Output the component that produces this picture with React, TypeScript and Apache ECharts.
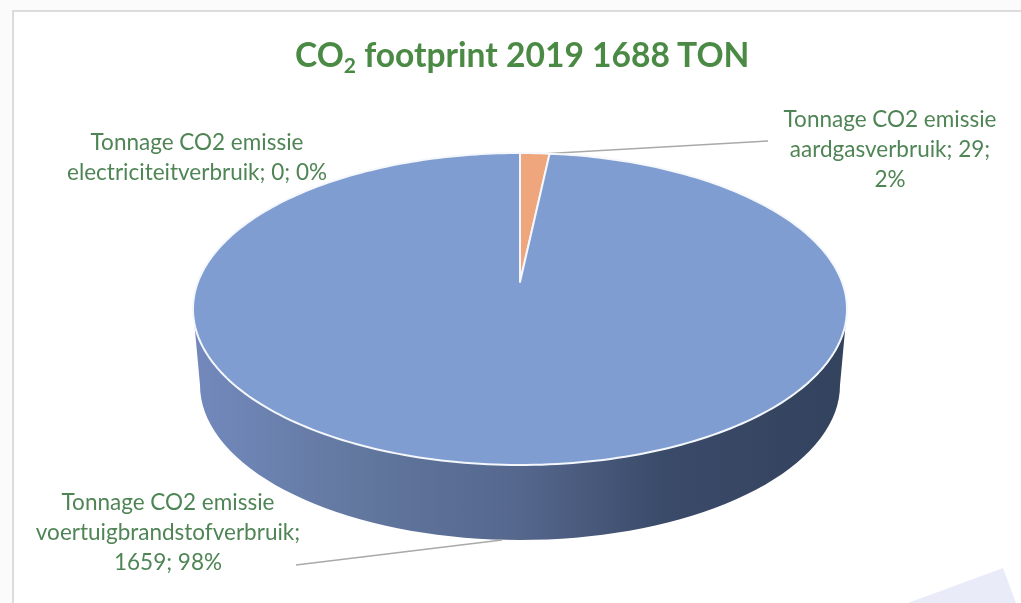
import React, { useEffect, useRef } from "react";
import * as echarts from "echarts";

const titleYear = "2019";
const titleTotal = "1688";
const sliceNames = ["electriciteitverbruik", "aardgasverbruik", "voertuigbrandstofverbruik"];
const sliceValues = [0, 29, 1659];
const slicePercents = ["0%", "2%", "98%"];
const sliceColors = ["#a5a5a5", "#f0a67c", "#7f9dd1"];

const W = 1021;
const H = 603;
const FONT = "Lato";
const GREEN = "#4f8555";
const TOP = { cx: 520, cy: 309, rx: 327, ry: 156 };
const BOTTOM = { cx: 520, cy: 385, rx: 320, ry: 155 };
// Perspective shift of the pie's centre towards the back, as a share of ry.
const PERSPECTIVE = 0.173;

function project(angle: number): number[] {
  const u = Math.sin(angle);
  const v = Math.cos(angle);
  const d = 1 + PERSPECTIVE * v;
  const x = (u * Math.sqrt(1 - PERSPECTIVE * PERSPECTIVE)) / d;
  const y = (v + PERSPECTIVE) / d;
  return [TOP.cx + TOP.rx * x, TOP.cy - TOP.ry * y];
}

function wallPoints(): number[][] {
  const pts: number[][] = [[TOP.cx - TOP.rx, TOP.cy], [TOP.cx + TOP.rx, TOP.cy]];
  for (let i = 0; i <= 72; i++) {
    const a = (Math.PI * i) / 72;
    pts.push([BOTTOM.cx + BOTTOM.rx * Math.cos(a), BOTTOM.cy + BOTTOM.ry * Math.sin(a)]);
  }
  return pts;
}

function renderSlice(params: any, api: any) {
  const total = sliceValues.reduce((a, b) => a + b, 0);
  const value = api.value(0) as number;
  if (!value) return null;
  const before = sliceValues.slice(0, params.dataIndex).reduce((a, b) => a + b, 0);
  const a0 = (before / total) * Math.PI * 2;
  const a1 = ((before + value) / total) * Math.PI * 2;
  const steps = Math.max(2, Math.ceil((a1 - a0) / 0.02));
  const pts: number[][] = [[TOP.cx, TOP.cy - TOP.ry * PERSPECTIVE]];
  for (let i = 0; i <= steps; i++) pts.push(project(a0 + ((a1 - a0) * i) / steps));
  return {
    type: "polygon",
    shape: { points: pts },
    style: { fill: sliceColors[params.dataIndex], stroke: "#f4f7fb", lineWidth: 2, lineJoin: "round" },
  };
}

const label = (text: string, x: number, y: number) => ({
  type: "text",
  x,
  y,
  style: {
    text,
    fill: GREEN,
    font: `22.5px ${FONT}`,
    lineHeight: 30,
    align: "center",
    verticalAlign: "middle",
  },
});

const leader = (x1: number, y1: number, x2: number, y2: number) => ({
  type: "line",
  shape: { x1, y1, x2, y2 },
  style: { stroke: "#a9a9a9", lineWidth: 1.5 },
});

export default function App() {
  const ref = useRef<HTMLDivElement>(null);
  useEffect(() => {
    const chart = echarts.init(ref.current!, undefined, { renderer: "svg" });
    chart.setOption({
      animation: false,
      backgroundColor: "#fbfbfb",
      title: {
        text: `{a|CO}{s|2}{a| footprint ${titleYear} ${titleTotal} TON}`,
        left: 290,
        top: 28,
        textStyle: {
          rich: {
            a: { fontFamily: FONT, fontWeight: "bold", fontSize: 33.6, color: "#4b8a45", lineHeight: 42 },
            s: { fontFamily: FONT, fontWeight: "bold", fontSize: 21, color: "#4b8a45", lineHeight: 26, verticalAlign: "bottom" },
          },
        },
      },
      graphic: [
        { type: "rect", z: -2, shape: { x: 13, y: 11, width: W, height: H }, style: { fill: "#ffffff", stroke: "#dcdcdc", lineWidth: 2 } },
        { type: "polygon", z: -1, shape: { points: [[908, 603], [1003, 568], [1016, 603]] }, style: { fill: "#e9ecf8" } },
        {
          type: "polygon",
          z: -1,
          shape: { points: wallPoints() },
          style: {
            fill: {
              type: "linear",
              x: 0,
              y: 0,
              x2: 1,
              y2: 0,
              colorStops: [
                { offset: 0, color: "#7389bd" },
                { offset: 0.25, color: "#62789f" },
                { offset: 0.5, color: "#55678d" },
                { offset: 0.72, color: "#3a4a69" },
                { offset: 1, color: "#33425d" },
              ],
            },
          },
        },
        leader(540, 154, 768, 141),
        leader(502, 540, 296, 565),
        label(`Tonnage CO2 emissie\n${sliceNames[0]}; ${sliceValues[0]}; ${slicePercents[0]}`, 197, 156),
        label(`Tonnage CO2 emissie\n${sliceNames[1]}; ${sliceValues[1]};\n${slicePercents[1]}`, 890, 148),
        label(`Tonnage CO2 emissie\n${sliceNames[2]};\n${sliceValues[2]}; ${slicePercents[2]}`, 168, 531),
      ],
      series: [
        {
          type: "custom",
          coordinateSystem: "none",
          renderItem: renderSlice,
          data: sliceValues.map((v, i) => ({ name: sliceNames[i], value: [v] })),
          z: 3,
        },
      ],
    });
    return () => chart.dispose();
  }, []);
  return <div ref={ref} style={{ position: "fixed", left: 0, top: 0, width: W, height: H, filter: "blur(0.6px)" }} />;
}
